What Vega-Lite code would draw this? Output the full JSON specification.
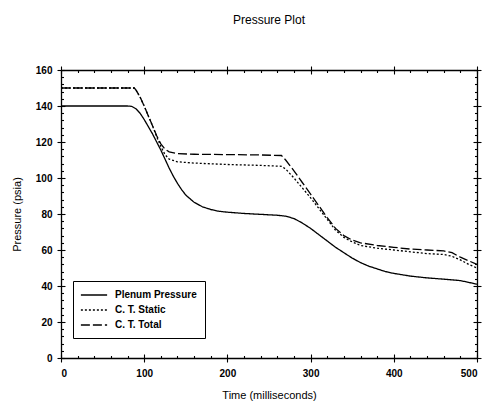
{
  "$schema": "https://vega.github.io/schema/vega-lite/v6.json",
  "width": 416,
  "height": 288,
  "autosize": {"type": "none"},
  "padding": {"left": 61, "top": 70, "right": 8, "bottom": 47},
  "background": "white",
  "title": {"text": "Pressure Plot", "fontSize": 12, "fontWeight": "normal", "font": "Liberation Sans", "offset": 38, "anchor": "middle", "color": "black"},
  "config": {
    "view": {"stroke": null},
    "axis": {"labelFont": "Liberation Sans", "titleFont": "Liberation Sans", "domainColor": "black", "tickColor": "black", "labelColor": "black", "titleColor": "black", "grid": false, "domainWidth": 1.3, "tickWidth": 1.1}
  },
  "data": {"values": [
    {"t": 0, "p": 140, "series": "Plenum Pressure"},
    {"t": 80, "p": 140, "series": "Plenum Pressure"},
    {"t": 85, "p": 139.8, "series": "Plenum Pressure"},
    {"t": 90, "p": 138.5, "series": "Plenum Pressure"},
    {"t": 95, "p": 136, "series": "Plenum Pressure"},
    {"t": 100, "p": 132.5, "series": "Plenum Pressure"},
    {"t": 105, "p": 128.5, "series": "Plenum Pressure"},
    {"t": 110, "p": 124.5, "series": "Plenum Pressure"},
    {"t": 115, "p": 120, "series": "Plenum Pressure"},
    {"t": 120, "p": 115.5, "series": "Plenum Pressure"},
    {"t": 125, "p": 110.5, "series": "Plenum Pressure"},
    {"t": 130, "p": 105.5, "series": "Plenum Pressure"},
    {"t": 135, "p": 101, "series": "Plenum Pressure"},
    {"t": 140, "p": 97, "series": "Plenum Pressure"},
    {"t": 145, "p": 93.5, "series": "Plenum Pressure"},
    {"t": 150, "p": 90.5, "series": "Plenum Pressure"},
    {"t": 160, "p": 86.5, "series": "Plenum Pressure"},
    {"t": 170, "p": 84, "series": "Plenum Pressure"},
    {"t": 180, "p": 82.5, "series": "Plenum Pressure"},
    {"t": 190, "p": 81.5, "series": "Plenum Pressure"},
    {"t": 200, "p": 81, "series": "Plenum Pressure"},
    {"t": 220, "p": 80.3, "series": "Plenum Pressure"},
    {"t": 240, "p": 79.8, "series": "Plenum Pressure"},
    {"t": 260, "p": 79.3, "series": "Plenum Pressure"},
    {"t": 270, "p": 78.8, "series": "Plenum Pressure"},
    {"t": 280, "p": 77.5, "series": "Plenum Pressure"},
    {"t": 290, "p": 75, "series": "Plenum Pressure"},
    {"t": 300, "p": 72, "series": "Plenum Pressure"},
    {"t": 310, "p": 68.5, "series": "Plenum Pressure"},
    {"t": 320, "p": 65, "series": "Plenum Pressure"},
    {"t": 330, "p": 61.5, "series": "Plenum Pressure"},
    {"t": 340, "p": 58.5, "series": "Plenum Pressure"},
    {"t": 350, "p": 55.5, "series": "Plenum Pressure"},
    {"t": 360, "p": 53, "series": "Plenum Pressure"},
    {"t": 370, "p": 51, "series": "Plenum Pressure"},
    {"t": 380, "p": 49.5, "series": "Plenum Pressure"},
    {"t": 390, "p": 48, "series": "Plenum Pressure"},
    {"t": 400, "p": 47, "series": "Plenum Pressure"},
    {"t": 420, "p": 45.5, "series": "Plenum Pressure"},
    {"t": 440, "p": 44.5, "series": "Plenum Pressure"},
    {"t": 460, "p": 43.8, "series": "Plenum Pressure"},
    {"t": 480, "p": 43, "series": "Plenum Pressure"},
    {"t": 490, "p": 42, "series": "Plenum Pressure"},
    {"t": 500, "p": 41, "series": "Plenum Pressure"},

    {"t": 0, "p": 150, "series": "C. T. Static"},
    {"t": 88, "p": 150, "series": "C. T. Static"},
    {"t": 90, "p": 149, "series": "C. T. Static"},
    {"t": 95, "p": 145, "series": "C. T. Static"},
    {"t": 100, "p": 140, "series": "C. T. Static"},
    {"t": 105, "p": 134.5, "series": "C. T. Static"},
    {"t": 110, "p": 129, "series": "C. T. Static"},
    {"t": 115, "p": 123, "series": "C. T. Static"},
    {"t": 120, "p": 117.5, "series": "C. T. Static"},
    {"t": 125, "p": 113, "series": "C. T. Static"},
    {"t": 130, "p": 110.5, "series": "C. T. Static"},
    {"t": 140, "p": 109, "series": "C. T. Static"},
    {"t": 160, "p": 108.3, "series": "C. T. Static"},
    {"t": 200, "p": 107.5, "series": "C. T. Static"},
    {"t": 240, "p": 107, "series": "C. T. Static"},
    {"t": 265, "p": 106.5, "series": "C. T. Static"},
    {"t": 270, "p": 105, "series": "C. T. Static"},
    {"t": 280, "p": 100, "series": "C. T. Static"},
    {"t": 290, "p": 94.5, "series": "C. T. Static"},
    {"t": 300, "p": 89, "series": "C. T. Static"},
    {"t": 310, "p": 83, "series": "C. T. Static"},
    {"t": 320, "p": 77, "series": "C. T. Static"},
    {"t": 330, "p": 71, "series": "C. T. Static"},
    {"t": 340, "p": 67, "series": "C. T. Static"},
    {"t": 350, "p": 64.5, "series": "C. T. Static"},
    {"t": 360, "p": 62.5, "series": "C. T. Static"},
    {"t": 380, "p": 61, "series": "C. T. Static"},
    {"t": 400, "p": 60, "series": "C. T. Static"},
    {"t": 420, "p": 59, "series": "C. T. Static"},
    {"t": 440, "p": 58, "series": "C. T. Static"},
    {"t": 460, "p": 57.5, "series": "C. T. Static"},
    {"t": 470, "p": 56.5, "series": "C. T. Static"},
    {"t": 480, "p": 54.5, "series": "C. T. Static"},
    {"t": 490, "p": 52, "series": "C. T. Static"},
    {"t": 500, "p": 50, "series": "C. T. Static"},

    {"t": 0, "p": 150, "series": "C. T. Total"},
    {"t": 88, "p": 150, "series": "C. T. Total"},
    {"t": 90, "p": 149, "series": "C. T. Total"},
    {"t": 95, "p": 145, "series": "C. T. Total"},
    {"t": 100, "p": 140, "series": "C. T. Total"},
    {"t": 105, "p": 134.5, "series": "C. T. Total"},
    {"t": 110, "p": 129, "series": "C. T. Total"},
    {"t": 115, "p": 123.5, "series": "C. T. Total"},
    {"t": 120, "p": 119, "series": "C. T. Total"},
    {"t": 125, "p": 116, "series": "C. T. Total"},
    {"t": 130, "p": 114.5, "series": "C. T. Total"},
    {"t": 140, "p": 113.5, "series": "C. T. Total"},
    {"t": 160, "p": 113.2, "series": "C. T. Total"},
    {"t": 200, "p": 113, "series": "C. T. Total"},
    {"t": 240, "p": 112.8, "series": "C. T. Total"},
    {"t": 265, "p": 112.5, "series": "C. T. Total"},
    {"t": 270, "p": 110, "series": "C. T. Total"},
    {"t": 280, "p": 104, "series": "C. T. Total"},
    {"t": 290, "p": 97.5, "series": "C. T. Total"},
    {"t": 300, "p": 91, "series": "C. T. Total"},
    {"t": 310, "p": 84.5, "series": "C. T. Total"},
    {"t": 320, "p": 78, "series": "C. T. Total"},
    {"t": 330, "p": 72, "series": "C. T. Total"},
    {"t": 340, "p": 68, "series": "C. T. Total"},
    {"t": 350, "p": 65.5, "series": "C. T. Total"},
    {"t": 360, "p": 64, "series": "C. T. Total"},
    {"t": 380, "p": 62.5, "series": "C. T. Total"},
    {"t": 400, "p": 61.5, "series": "C. T. Total"},
    {"t": 420, "p": 60.5, "series": "C. T. Total"},
    {"t": 440, "p": 60, "series": "C. T. Total"},
    {"t": 460, "p": 59.5, "series": "C. T. Total"},
    {"t": 470, "p": 58.5, "series": "C. T. Total"},
    {"t": 480, "p": 56, "series": "C. T. Total"},
    {"t": 490, "p": 54, "series": "C. T. Total"},
    {"t": 500, "p": 52, "series": "C. T. Total"}
  ]},
  "layer": [
    {
      "mark": {"type": "line", "color": "black", "strokeWidth": 1.3},
      "encoding": {
        "x": {"field": "t", "type": "quantitative", "scale": {"domain": [0, 500], "nice": false},
          "axis": {"orient": "bottom", "values": [0, 100, 200, 300, 400, 500], "tickSize": 4, "labelFontSize": 10, "labelFontWeight": "bold", "labelPadding": 6, "title": "Time (milliseconds)", "titleFontSize": 11, "titleFontWeight": "normal", "titleColor": "#000000", "titlePadding": 11}},
        "y": {"field": "p", "type": "quantitative", "scale": {"domain": [0, 160], "nice": false},
          "axis": {"orient": "left", "values": [0, 20, 40, 60, 80, 100, 120, 140, 160], "tickSize": 4, "labelFontSize": 10, "labelFontWeight": "bold", "labelPadding": 5, "title": "Pressure (psia)", "titleFontSize": 11, "titleFontWeight": "normal", "titleColor": "#000000", "titlePadding": 13}},
        "strokeDash": {"field": "series", "type": "nominal",
          "scale": {"domain": ["Plenum Pressure", "C. T. Static", "C. T. Total"], "range": [[1, 0], [2, 2], [9, 3]]},
          "legend": {"title": null, "orient": "none", "legendX": 12, "legendY": 211, "strokeColor": "black", "fillColor": "white", "padding": 8, "symbolType": "M-2.5,0H2.5", "symbolSize": 110, "symbolOffset": 7, "labelOffset": 15, "symbolStrokeWidth": 1.3, "symbolStrokeColor": "black", "labelFontSize": 10, "labelFont": "Liberation Sans", "labelFontWeight": "bold", "labelColor": "black", "rowPadding": 4}}
      }
    },
    {
      "mark": {"type": "line", "opacity": 0},
      "encoding": {
        "x": {"field": "t", "type": "quantitative", "axis": {"orient": "top", "values": [0, 100, 200, 300, 400, 500], "tickSize": 4, "labels": false, "title": null}},
        "y": {"field": "p", "type": "quantitative", "axis": {"orient": "right", "values": [0, 20, 40, 60, 80, 100, 120, 140, 160], "tickSize": 4, "labels": false, "title": null}}
      }
    },
    {
      "mark": {"type": "line", "opacity": 0},
      "encoding": {
        "x": {"field": "t", "type": "quantitative", "axis": {"orient": "bottom", "values": [0, 100, 200, 300, 400, 500], "tickSize": -4, "domain": false, "labels": false, "title": null}},
        "y": {"field": "p", "type": "quantitative", "axis": {"orient": "left", "values": [0, 20, 40, 60, 80, 100, 120, 140, 160], "tickSize": -4, "domain": false, "labels": false, "title": null}}
      }
    },
    {
      "mark": {"type": "line", "opacity": 0},
      "encoding": {
        "x": {"field": "t", "type": "quantitative", "axis": {"orient": "top", "values": [0, 100, 200, 300, 400, 500], "tickSize": -4, "domain": false, "labels": false, "title": null}},
        "y": {"field": "p", "type": "quantitative", "axis": {"orient": "right", "values": [0, 20, 40, 60, 80, 100, 120, 140, 160], "tickSize": -4, "domain": false, "labels": false, "title": null}}
      }
    },
    {
      "mark": {"type": "line", "opacity": 0},
      "encoding": {
        "x": {"field": "t", "type": "quantitative", "axis": {"orient": "bottom", "values": [20, 40, 60, 80, 120, 140, 160, 180, 220, 240, 260, 280, 320, 340, 360, 380, 420, 440, 460, 480], "tickSize": -2.5, "domain": false, "labels": false, "title": null}},
        "y": {"field": "p", "type": "quantitative", "axis": {"orient": "left", "values": [4, 8, 12, 16, 24, 28, 32, 36, 44, 48, 52, 56, 64, 68, 72, 76, 84, 88, 92, 96, 104, 108, 112, 116, 124, 128, 132, 136, 144, 148, 152, 156], "tickSize": -2.5, "domain": false, "labels": false, "title": null}}
      }
    },
    {
      "mark": {"type": "line", "opacity": 0},
      "encoding": {
        "x": {"field": "t", "type": "quantitative", "axis": {"orient": "top", "values": [20, 40, 60, 80, 120, 140, 160, 180, 220, 240, 260, 280, 320, 340, 360, 380, 420, 440, 460, 480], "tickSize": -2.5, "domain": false, "labels": false, "title": null}},
        "y": {"field": "p", "type": "quantitative", "axis": {"orient": "right", "values": [4, 8, 12, 16, 24, 28, 32, 36, 44, 48, 52, 56, 64, 68, 72, 76, 84, 88, 92, 96, 104, 108, 112, 116, 124, 128, 132, 136, 144, 148, 152, 156], "tickSize": -2.5, "domain": false, "labels": false, "title": null}}
      }
    }
  ],
  "resolve": {"axis": {"x": "independent", "y": "independent"}}
}
